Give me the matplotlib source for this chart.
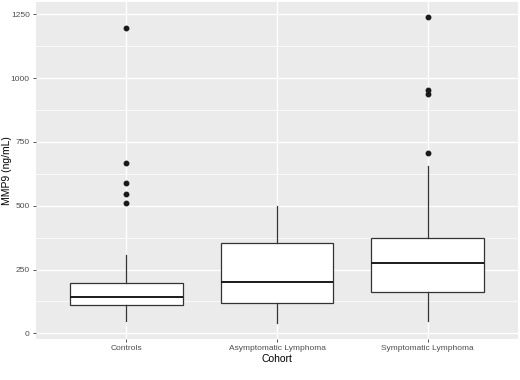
import matplotlib
matplotlib.use("Agg")
import matplotlib.pyplot as plt

plt.rcParams['font.family'] = ['Liberation Sans', 'DejaVu Sans']

cohorts = ["Controls", "Asymptomatic Lymphoma", "Symptomatic Lymphoma"]
q1 = [111, 120, 162]
median = [142, 201, 274]
q3 = [198, 355, 375]
whisker_low = [49, 39, 48]
whisker_high = [307, 500, 657]
outliers = [
    [512, 545, 589, 667, 1196],
    [],
    [708, 938, 953, 1241],
]

stats = []
for i, name in enumerate(cohorts):
    stats.append({"label": name, "q1": q1[i], "med": median[i], "q3": q3[i],
                  "whislo": whisker_low[i], "whishi": whisker_high[i],
                  "fliers": outliers[i]})

fig = plt.figure(figsize=(5.2, 3.8), dpi=100)
ax = fig.add_axes([36 / 520, 41 / 380, 482 / 520, 337 / 380])
ax.set_facecolor("#EBEBEB")

# ggplot-like grid
for y in range(0, 1251, 250):
    ax.axhline(y, color="white", lw=1.0, zorder=0)
for y in range(125, 1300, 250):
    ax.axhline(y, color="white", lw=0.5, zorder=0)
for x in range(len(cohorts)):
    ax.axvline(x, color="white", lw=1.0, zorder=0)

ax.bxp(stats, positions=range(len(cohorts)), widths=0.75, patch_artist=True,
       showcaps=False,
       boxprops=dict(facecolor="white", edgecolor="#333333", lw=0.9),
       medianprops=dict(color="#1a1a1a", lw=1.4),
       whiskerprops=dict(color="#333333", lw=0.9),
       flierprops=dict(marker="o", markersize=3.2, markerfacecolor="#1a1a1a",
                       markeredgecolor="#1a1a1a"),
       zorder=2)

ax.set_xlim(-0.6, 2.6)
ax.set_ylim(-22, 1298)
ax.set_yticks(range(0, 1251, 250))
ax.set_xticks(range(len(cohorts)))
ax.set_xticklabels(cohorts)
for s in ax.spines.values():
    s.set_visible(False)
ax.tick_params(axis="both", length=2.5, width=0.6, color="#333333",
               labelsize=6, labelcolor="#4D4D4D", pad=2)
ax.set_xlabel("Cohort", fontsize=7.5, labelpad=1)
ax.set_ylabel("MMP9 (ng/mL)", fontsize=7.5)
ax.yaxis.set_label_coords(-24 / 482, 0.5)

fig.savefig("out.png", dpi=100)
